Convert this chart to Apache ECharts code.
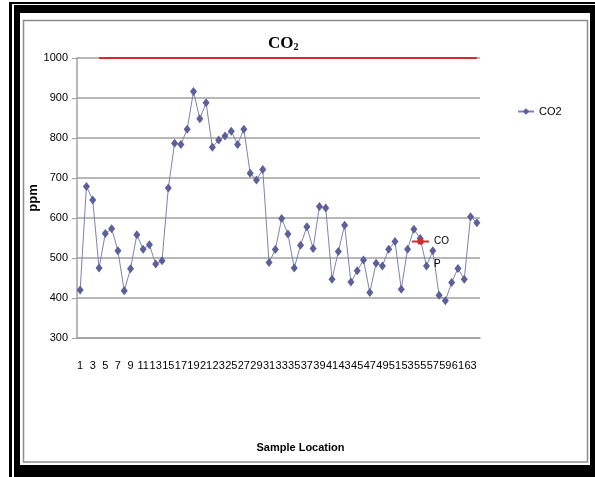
<!DOCTYPE html>
<html>
<head>
<meta charset="utf-8">
<script src="https://cdn.jsdelivr.net/npm/echarts@6/dist/echarts.min.js"></script>
<style>html,body{margin:0;padding:0;background:#fff;}#c{width:595px;height:477px;}</style>
</head>
<body>
<div id="c"></div>
<script>
var categories = ['1','2','3','4','5','6','7','8','9','10','11','12','13','14','15','16','17','18','19','20','21','22','23','24','25','26','27','28','29','30','31','32','33','34','35','36','37','38','39','40','41','42','43','44','45','46','47','48','49','50','51','52','53','54','55','56','57','58','59','60','61','62','63','64'];
var co2 = [420,679,645,475,561,573,518,418,473,558,522,533,485,493,675,787,784,822,916,848,888,777,795,805,817,784,822,712,695,721,489,521,599,560,475,532,578,524,629,625,447,516,582,440,468,495,414,487,480,522,541,422,522,572,549,480,518,407,393,439,474,447,603,588];
var cop = [null,null,null,1000,1000,1000,1000,1000,1000,1000,1000,1000,1000,1000,1000,1000,1000,1000,1000,1000,1000,1000,1000,1000,1000,1000,1000,1000,1000,1000,1000,1000,1000,1000,1000,1000,1000,1000,1000,1000,1000,1000,1000,1000,1000,1000,1000,1000,1000,1000,1000,1000,1000,1000,1000,1000,1000,1000,1000,1000,1000,1000,1000,1000];
var yTicks = {min: 300, max: 1000, interval: 100};

var SANS = '"Liberation Sans", Arial, sans-serif';
var SERIF = '"Liberation Serif", "Times New Roman", serif';
var chart = echarts.init(document.getElementById('c'), null, {renderer: 'canvas'});
chart.setOption({
  animation: false,
  backgroundColor: '#fff',
  graphic: [
    {type: 'rect', z: -100, shape: {x: 9, y: 2, width: 586, height: 475}, style: {fill: '#000'}},
    {type: 'rect', z: -99, shape: {x: 12, y: 4, width: 583, height: 473}, style: {fill: '#fff'}},
    {type: 'rect', z: -98, shape: {x: 14, y: 5, width: 581, height: 472}, style: {fill: '#000'}},
    {type: 'rect', z: -97, shape: {x: 20, y: 13, width: 570, height: 452}, style: {fill: '#fff'}},
    {type: 'rect', z: -96, shape: {x: 23.5, y: 20.5, width: 564, height: 441.5}, style: {fill: 'none', stroke: '#8c8c8c', lineWidth: 1.5}}
  ],
  title: {
    text: '{a|CO}{b|2}',
    left: 268, top: 35, padding: 0,
    textStyle: {
      rich: {
        a: {fontFamily: SERIF, fontSize: 17, fontWeight: 'bold', color: '#000'},
        b: {fontFamily: SERIF, fontSize: 10, fontWeight: 'bold', color: '#000', padding: [7, 0, 0, 0]}
      }
    }
  },
  legend: [
    {
      data: ['CO2'], left: 517, top: 106, padding: 0,
      itemWidth: 16, itemHeight: 8,
      textStyle: {fontFamily: SANS, fontSize: 11, color: '#000'}
    },
    {
      data: ['COP'], left: 411, top: 207, padding: 0,
      itemWidth: 17, itemHeight: 8,
      formatter: function () { return '\nCO\nP'; },
      textStyle: {fontFamily: SANS, fontSize: 10, color: '#000', lineHeight: 23}
    }
  ],
  grid: {left: 77, right: 115, top: 58, bottom: 139, containLabel: false},
  xAxis: {
    type: 'category', data: categories, boundaryGap: true,
    name: 'Sample Location', nameLocation: 'middle', nameGap: 104, nameMoveOverlap: false,
    nameTextStyle: {fontFamily: SANS, fontSize: 11, fontWeight: 'bold', color: '#000', padding: [0, 0, 0, 44]},
    axisLine: {show: true, lineStyle: {color: '#a0a0a0', width: 1.5}},
    axisTick: {show: false},
    axisLabel: {interval: 1, margin: 22, fontFamily: SANS, fontSize: 11, color: '#000', hideOverlap: false},
    splitLine: {show: false}
  },
  yAxis: {
    type: 'value', min: yTicks.min, max: yTicks.max, interval: yTicks.interval,
    name: 'ppm', nameLocation: 'middle', nameGap: 37, nameRotate: 90, nameMoveOverlap: false,
    nameTextStyle: {fontFamily: SANS, fontSize: 13, fontWeight: 'bold', color: '#000'},
    axisLine: {show: true, lineStyle: {color: '#a0a0a0', width: 1.5}},
    axisTick: {show: true, length: 5, lineStyle: {color: '#a0a0a0'}},
    axisLabel: {margin: 9, fontFamily: SANS, fontSize: 11, color: '#000', formatter: function (v) { return String(v); }},
    splitLine: {show: true, lineStyle: {color: '#a0a0a0', width: 1.5}}
  },
  series: [
    {
      name: 'CO2', type: 'line', data: co2,
      symbol: 'diamond', symbolSize: [7, 9], showAllSymbol: true,
      itemStyle: {color: '#5c5f99'},
      lineStyle: {color: '#7e82b4', width: 1},
      z: 3
    },
    {
      name: 'COP', type: 'line', data: cop,
      symbol: 'none', showSymbol: false,
      itemStyle: {color: '#d42a2a'},
      lineStyle: {color: '#d42a2a', width: 2},
      z: 2
    }
  ]
});
</script>
</body>
</html>
